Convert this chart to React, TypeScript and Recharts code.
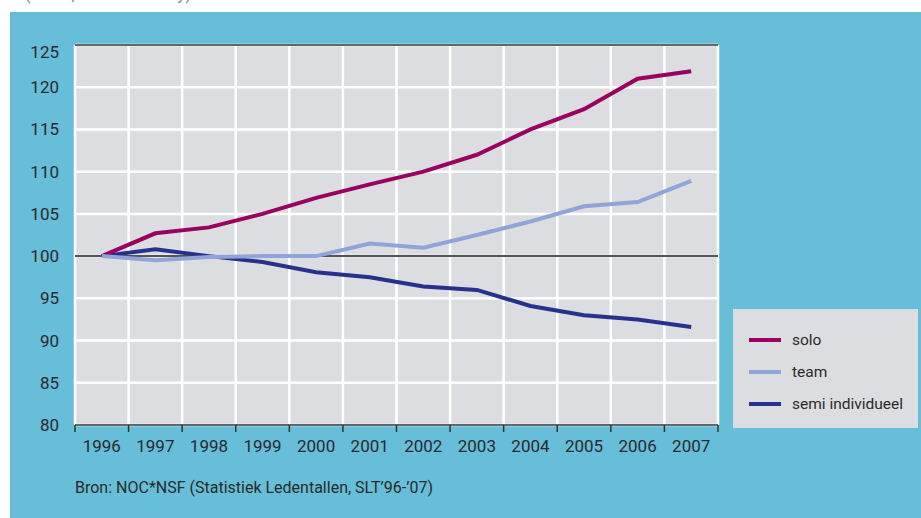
import React from "react"
import { LineChart, Line, XAxis, YAxis, CartesianGrid, ReferenceLine, Legend } from "recharts"

const years = ["1996", "1997", "1998", "1999", "2000", "2001", "2002", "2003", "2004", "2005", "2006", "2007"]
const solo = [100, 102.7, 103.4, 105, 106.9, 108.5, 110, 112, 115, 117.4, 121, 121.9]
const team = [100, 99.5, 99.9, 100, 100, 101.5, 101, 102.5, 104.1, 105.9, 106.4, 108.9]
const semi = [100, 100.8, 100, 99.3, 98.1, 97.5, 96.4, 96, 94.1, 93, 92.5, 91.6]
const yTicks = [80, 85, 90, 95, 100, 105, 110, 115, 120, 125]
const cellTicks = years.map((_, i) => i).concat([years.length])
const labelTicks = years.map((_, i) => i + 0.5)

const series = [
  { key: "solo", name: "solo", color: "#9a0060" },
  { key: "team", name: "team", color: "#8fa4d8" },
  { key: "semi", name: "semi individueel", color: "#26318b" },
]

const data = years.map((y, i) => ({
  year: y,
  pos: i + 0.5,
  solo: solo[i],
  team: team[i],
  semi: semi[i],
}))

const font = "Roboto, 'Liberation Sans', sans-serif"
const textColor = "#2a2a2a"

function YTick(props: any) {
  const v = props.payload.value
  return (
    <text x={props.x} y={props.y + (v === 125 ? 7 : 0)} dy="0.35em" textAnchor="end"
      fill={textColor} fontSize={17} fontFamily={font}>
      {v}
    </text>
  )
}

function LegendBox() {
  return (
    <div style={{ background: "#dcdde0", width: 185, height: 119, boxSizing: "border-box", paddingTop: 15, fontFamily: font }}>
      {series.map((s) => (
        <div key={s.key} style={{ display: "flex", alignItems: "center", height: 32, paddingLeft: 16 }}>
          <div style={{ width: 32, height: 4, background: s.color, marginRight: 11 }} />
          <span style={{ fontSize: 15.5, color: textColor }}>{s.name}</span>
        </div>
      ))}
    </div>
  )
}

export default function App() {
  return (
    <div style={{ position: "absolute", left: 0, top: 0, width: 921, height: 518, background: "#fff", overflow: "hidden" }}>
      <div style={{ position: "absolute", left: 25, top: -16, fontFamily: font, fontSize: 17, color: "#8a8a8a" }}>
        (index, 1996 = 100 ny)
      </div>
      <div style={{ position: "absolute", left: 10, top: 12, right: 0, bottom: 0, background: "#66bed8" }} />
      <div style={{ position: "absolute", left: 10, top: 12 }}>
        <LineChart width={911} height={458} data={data} margin={{ top: 33, right: 203, bottom: 7, left: 0 }}>
          <CartesianGrid stroke="#ffffff" strokeWidth={2.5} fill="#dcdde0" fillOpacity={1} />
          <XAxis dataKey="pos" type="number" domain={[0, years.length]} ticks={cellTicks}
            tickFormatter={() => ""} height={8} tickSize={7}
            axisLine={{ stroke: "#333", strokeWidth: 1.5 }} tickLine={{ stroke: "#333", strokeWidth: 1.5 }} />
          <XAxis xAxisId="years" dataKey="pos" type="number" domain={[0, years.length]} ticks={labelTicks}
            tickFormatter={(v: number) => years[Math.floor(v)]} height={30} tickSize={0} tickMargin={7}
            axisLine={false} tickLine={false}
            tick={{ fill: textColor, fontSize: 17, fontFamily: font }} />
          <YAxis domain={[80, 125]} ticks={yTicks} width={65} axisLine={false} tickLine={false}
            tickSize={0} tickMargin={16} tick={<YTick />} />
          <ReferenceLine y={100} stroke="#1a1a1a" strokeWidth={1.5} />
          <ReferenceLine y={125} stroke="#333" strokeWidth={1.5} />
          <Line dataKey="semi" stroke="#26318b" strokeWidth={4} dot={false} isAnimationActive={false} />
          <Line dataKey="solo" stroke="#9a0060" strokeWidth={4} dot={false} isAnimationActive={false} />
          <Line dataKey="team" stroke="#8fa4d8" strokeWidth={4} dot={false} isAnimationActive={false} />
          <Legend content={<LegendBox />} layout="horizontal" verticalAlign="middle" align="center"
            wrapperStyle={{ position: "absolute", left: 723, top: 297, width: 185, height: 119 }} />
        </LineChart>
      </div>
      <div style={{ position: "absolute", left: 75, top: 478, fontFamily: font, fontSize: 16, color: textColor }}>
        Bron: NOC*NSF (Statistiek Ledentallen, SLT’96-’07)
      </div>
    </div>
  )
}
